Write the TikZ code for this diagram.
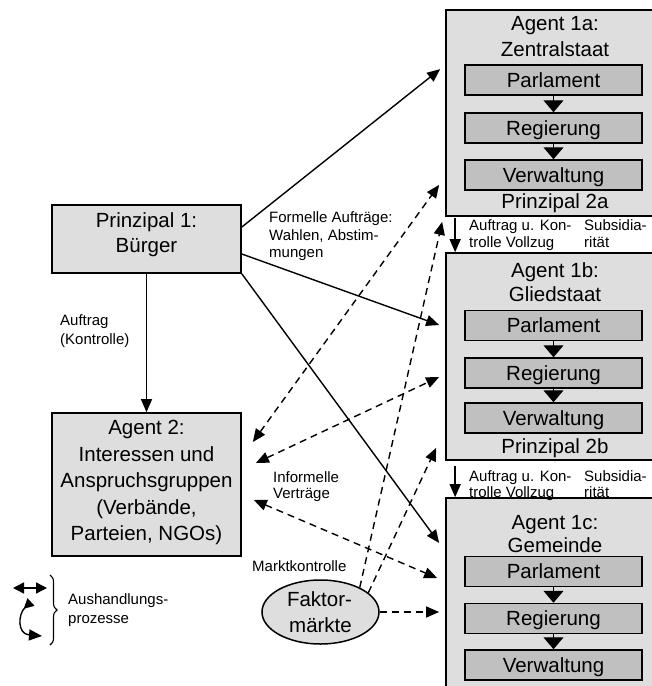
\documentclass[tikz,border=0pt]{standalone}
\usepackage{fontspec}
\setmainfont{Liberation Sans}
\usetikzlibrary{arrows.meta,calc,shapes.geometric,decorations.pathreplacing}
\definecolor{boxgray}{RGB}{222,222,222}
\definecolor{innergray}{RGB}{192,192,192}
\begin{document}
\begin{tikzpicture}[x=1pt,y=-1pt,
  bigbox/.style={draw=black,line width=1.7pt,fill=boxgray,inner sep=0pt},
  inbox/.style={draw=black,line width=1.5pt,fill=innergray,minimum width=177pt,minimum height=30pt,inner sep=0pt,
     font=\fontsize{20.5}{24}\selectfont,text height=14.7pt,text depth=0pt},
  bigtxt/.style={font=\fontsize{20.5}{24}\selectfont,inner sep=0pt,text height=14.7pt,text depth=0pt},
  smalltxt/.style={font=\fontsize{15}{17}\selectfont,inner sep=0pt,text height=10.7pt,text depth=0pt,anchor=west},
  conn/.style={line width=1.4pt,-{Triangle[width=11pt,length=13pt]}},
  dconn/.style={line width=1.4pt,dash pattern=on 7pt off 5pt,-{Triangle[width=11pt,length=13pt]}},
  ddconn/.style={line width=1.4pt,dash pattern=on 7pt off 5pt,{Triangle[width=11pt,length=13pt]}-{Triangle[width=11pt,length=13pt]}},
  inarrow/.style={line width=1.4pt,-{Triangle[width=20pt,length=12pt]}},
  gaparrow/.style={line width=1.4pt,-{Triangle[width=11pt,length=13pt]}},
  legarrow/.style={line width=1.4pt}
]
\useasboundingbox (0,0) rectangle (652,686);

% ---- right column: agents 1a, 1b, 1c
\node[bigbox,minimum width=224pt,minimum height=206pt] (a1) at (558,113) {};
\node[bigbox,minimum width=224pt,minimum height=207pt] (b1) at (558,356.5) {};
\node[bigbox,minimum width=224pt,minimum height=212pt] (c1) at (558,604) {};

\node[bigtxt] (a1t1) at (555,23) {Agent 1a:};
\node[bigtxt] (a1t2) at (555,49) {Zentralstaat};
\node[inbox] (a1p) at (553.5,80) {Parlament};
\node[inbox] (a1r) at (553.5,128) {Regierung};
\node[inbox] (a1v) at (553.5,175) {Verwaltung};
\node[bigtxt] (a1t3) at (555,201) {Prinzipal 2a};
\draw[inarrow] (a1p.south) -- (a1r.north);
\draw[inarrow] (a1r.south) -- (a1v.north);

\node[bigtxt] (b1t1) at (555,270) {Agent 1b:};
\node[bigtxt] (b1t2) at (555,294) {Gliedstaat};
\node[inbox] (b1p) at (553.5,325.5) {Parlament};
\node[inbox] (b1r) at (553.5,373) {Regierung};
\node[inbox] (b1v) at (553.5,418) {Verwaltung};
\node[bigtxt] (b1t3) at (555,446) {Prinzipal 2b};
\draw[inarrow] (b1p.south) -- (b1r.north);
\draw[inarrow] (b1r.south) -- (b1v.north);

\node[bigtxt] (c1t1) at (555,522) {Agent 1c:};
\node[bigtxt] (c1t2) at (555,545) {Gemeinde};
\node[inbox] (c1p) at (553.5,571.5) {Parlament};
\node[inbox] (c1r) at (553.5,618.5) {Regierung};
\node[inbox] (c1v) at (553.5,665) {Verwaltung};
\draw[inarrow] (c1p.south) -- (c1r.north);
\draw[inarrow] (c1r.south) -- (c1v.north);

% ---- gaps between agent boxes
\draw[gaparrow] ($(a1.south west)+(10,1)$) -- ($(b1.north west)+(10,0)$);
\node[smalltxt] (g1a) at (469,225) {Auftrag u. Kon-};
\node[smalltxt] (g1b) at (469,242) {trolle Vollzug};
\node[smalltxt] (g1c) at (584,225) {Subsidia-};
\node[smalltxt] (g1d) at (584,242) {rität};

\draw[gaparrow] ($(b1.south west)+(10,5)$) -- ($(c1.north west)+(10,0)$);
\node[smalltxt] (g2a) at (469,476) {Auftrag u. Kon-};
\node[smalltxt] (g2b) at (469,492) {trolle Vollzug};
\node[smalltxt] (g2c) at (584,476) {Subsidia-};
\node[smalltxt] (g2d) at (584,492) {rität};

% ---- left column
\node[bigbox,minimum width=189pt,minimum height=68pt] (prin) at (146.5,239) {};
\node[bigtxt] (prt1) at (146.5,220) {Prinzipal 1:};
\node[bigtxt] (prt2) at (146.5,245.5) {Bürger};

\node[bigbox,minimum width=189pt,minimum height=143pt] (ag2) at (146.5,484.5) {};
\node[bigtxt] (ag2t1) at (146.5,427.5) {Agent 2:};
\node[bigtxt] (ag2t2) at (146.5,454) {Interessen und};
\node[bigtxt] (ag2t3) at (146.5,480.5) {Anspruchsgruppen};
\node[bigtxt] (ag2t4) at (146.5,507) {(Verbände,};
\node[bigtxt] (ag2t5) at (146.5,533.5) {Parteien, NGOs)};

\node[ellipse,draw=black,line width=1.5pt,fill=boxgray,minimum width=117pt,minimum height=64pt,inner sep=0pt] (ell) at (320.5,612) {};
\node[bigtxt] (elt1) at (319.5,599.5) {Faktor-};
\node[bigtxt] (elt2) at (320.5,625.5) {märkte};

% ---- labels
\node[smalltxt] (lf1) at (269,217.5) {Formelle Aufträge:};
\node[smalltxt] (lf2) at (269,235) {Wahlen, Abstim-};
\node[smalltxt] (lf3) at (269,252.5) {mungen};
\node[smalltxt] (lk1) at (60,320) {Auftrag};
\node[smalltxt] (lk2) at (60,339) {(Kontrolle)};
\node[smalltxt] (li1) at (273,477.5) {Informelle};
\node[smalltxt] (li2) at (273,493) {Verträge};
\node[smalltxt] (lm) at (252,566) {Marktkontrolle};

% ---- solid connectors
\draw[conn] ($(prin.east)+(0,-12)$) -- ($(a1.north west)+(-5,60)$);
\draw[conn] ($(prin.east)+(0,15)$) -- ($(b1.west)+(-6,-31.5)$);
\draw[conn] (prin.south east) -- ($(c1.west)+(-6,-61)$);
\draw[conn] (prin.south) -- (ag2.north);

% ---- dashed connectors
\draw[ddconn] ($(ag2.east)+(11,-42.5)$) -- ($(a1.south west)+(-6,-32)$);
\draw[ddconn] ($(ag2.east)+(14,-21.5)$) -- ($(b1.west)+(-6,20.5)$);
\draw[ddconn] ($(ag2.east)+(12,15.5)$) -- ($(c1.west)+(-8,-26)$);
\draw[dconn] (ell.32) -- ($(a1.south west)+(-3,5)$);
\draw[dconn] (ell.22) -- ($(b1.south west)+(-9,-13)$);
\draw[dconn] (ell.east) -- ($(ell.east -| c1.west)+(-6,0)$);

% ---- legend
\coordinate (la1) at (13,588);
\coordinate (la2) at (47,588);
\draw[legarrow,{Triangle[width=11pt,length=11pt]}-{Triangle[width=11pt,length=11pt]}] (la1) -- (la2);
\coordinate (lc1) at (31,602);
\coordinate (lc2) at (42,636);
\draw[legarrow,{Triangle[reversed,width=10pt,length=10pt]}-{Triangle[width=11pt,length=13pt]}] (lc1) .. controls (18,614) and (17,634) .. (lc2);
\coordinate (br1) at (50,575);
\coordinate (br2) at (50,645);
\draw[decorate,decoration={brace,amplitude=7pt},line width=1.1pt] (br1) -- (br2);
\node[smalltxt] (lg1) at (68,599) {Aushandlungs-};
\node[smalltxt] (lg2) at (68,618) {prozesse};
\end{tikzpicture}
\end{document}
